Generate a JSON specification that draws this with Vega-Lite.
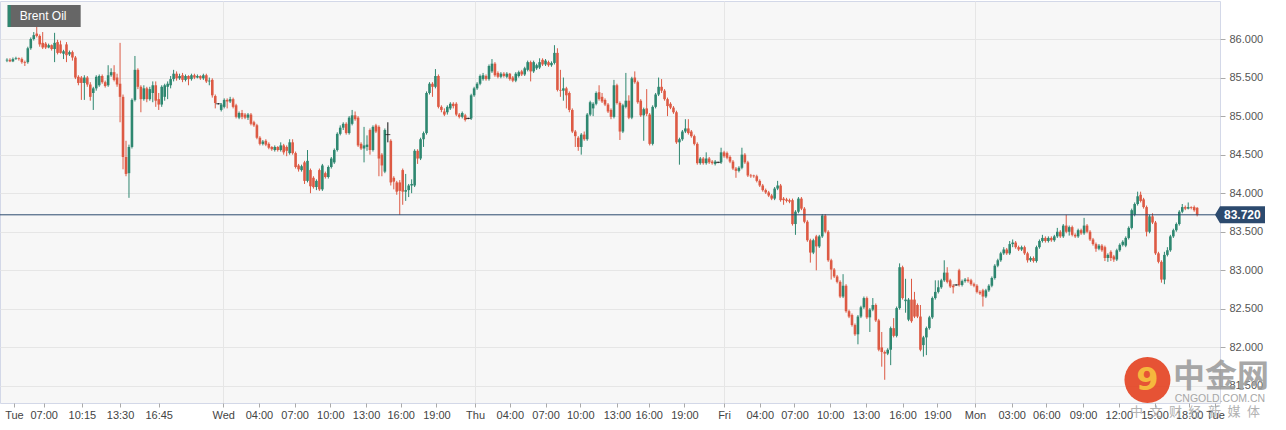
{
"$schema": "https://vega.github.io/schema/vega-lite/v6.json",
"width": 1220, "height": 402,
"autosize": {"type": "none"},
"padding": {"left": 0, "top": 1, "right": 66, "bottom": 27},
"background": "#ffffff",
"config": {"view": {"fill": "#f7f7f7", "stroke": "#d3d8e8", "strokeWidth": 1}, "font": "Liberation Sans", "axis": {"labelOverlap": false, "title": null}},
"data": {"values": [
{"i":0,"o":85.72,"h":85.75,"l":85.70,"c":85.73},{"i":1,"o":85.73,"h":85.75,"l":85.70,"c":85.71},{"i":2,"o":85.71,"h":85.76,"l":85.70,"c":85.74},{"i":3,"o":85.74,"h":85.77,"l":85.73,"c":85.75},{"i":4,"o":85.75,"h":85.76,"l":85.72,"c":85.74},
{"i":5,"o":85.74,"h":85.76,"l":85.68,"c":85.70},{"i":6,"o":85.70,"h":85.72,"l":85.65,"c":85.69},{"i":7,"o":85.70,"h":85.90,"l":85.68,"c":85.88},{"i":8,"o":85.88,"h":86.02,"l":85.86,"c":86.00},{"i":9,"o":86.00,"h":86.09,"l":85.98,"c":86.05},
{"i":10,"o":86.07,"h":86.16,"l":86.02,"c":86.04},{"i":11,"o":86.04,"h":86.06,"l":85.90,"c":85.93},{"i":12,"o":85.95,"h":86.09,"l":85.87,"c":85.89},{"i":13,"o":85.94,"h":85.96,"l":85.87,"c":85.89},{"i":14,"o":85.89,"h":85.94,"l":85.88,"c":85.92},
{"i":15,"o":85.92,"h":85.93,"l":85.85,"c":85.87},{"i":16,"o":85.87,"h":86.08,"l":85.70,"c":85.95},{"i":17,"o":85.96,"h":85.99,"l":85.80,"c":85.82},{"i":18,"o":85.93,"h":85.98,"l":85.81,"c":85.82},{"i":19,"o":85.81,"h":85.86,"l":85.74,"c":85.84},
{"i":20,"o":85.93,"h":85.96,"l":85.70,"c":85.79},{"i":21,"o":85.80,"h":85.85,"l":85.78,"c":85.83},{"i":22,"o":85.83,"h":85.85,"l":85.72,"c":85.76},{"i":23,"o":85.76,"h":85.78,"l":85.48,"c":85.50},{"i":24,"o":85.51,"h":85.53,"l":85.40,"c":85.43},
{"i":25,"o":85.50,"h":85.52,"l":85.21,"c":85.43},{"i":26,"o":85.43,"h":85.53,"l":85.21,"c":85.50},{"i":27,"o":85.50,"h":85.52,"l":85.38,"c":85.41},{"i":28,"o":85.41,"h":85.44,"l":85.20,"c":85.25},{"i":29,"o":85.30,"h":85.38,"l":85.08,"c":85.36},
{"i":30,"o":85.36,"h":85.53,"l":85.33,"c":85.51},{"i":31,"o":85.40,"h":85.54,"l":85.38,"c":85.52},{"i":32,"o":85.52,"h":85.54,"l":85.42,"c":85.44},{"i":33,"o":85.44,"h":85.46,"l":85.37,"c":85.39},{"i":34,"o":85.40,"h":85.66,"l":85.38,"c":85.53},
{"i":35,"o":85.53,"h":85.62,"l":85.51,"c":85.57},{"i":36,"o":85.57,"h":85.66,"l":85.45,"c":85.47},{"i":37,"o":85.50,"h":85.55,"l":85.38,"c":85.41},{"i":38,"o":85.42,"h":85.95,"l":84.92,"c":85.25},{"i":39,"o":85.25,"h":85.28,"l":84.31,"c":84.47},
{"i":40,"o":84.47,"h":84.68,"l":84.22,"c":84.25},{"i":41,"o":84.26,"h":84.63,"l":83.94,"c":84.60},{"i":42,"o":84.60,"h":85.23,"l":84.58,"c":85.21},{"i":43,"o":85.21,"h":85.78,"l":85.19,"c":85.60},{"i":44,"o":85.60,"h":85.62,"l":85.35,"c":85.38},
{"i":45,"o":85.38,"h":85.40,"l":85.05,"c":85.22},{"i":46,"o":85.22,"h":85.40,"l":85.20,"c":85.36},{"i":47,"o":85.36,"h":85.38,"l":85.18,"c":85.22},{"i":48,"o":85.22,"h":85.38,"l":85.20,"c":85.35},{"i":49,"o":85.30,"h":85.45,"l":85.18,"c":85.40},
{"i":50,"o":85.40,"h":85.45,"l":85.12,"c":85.20},{"i":51,"o":85.22,"h":85.30,"l":85.08,"c":85.15},{"i":52,"o":85.15,"h":85.40,"l":85.12,"c":85.38},{"i":53,"o":85.25,"h":85.42,"l":85.20,"c":85.40},{"i":54,"o":85.38,"h":85.45,"l":85.22,"c":85.42},
{"i":55,"o":85.40,"h":85.52,"l":85.36,"c":85.48},{"i":56,"o":85.48,"h":85.60,"l":85.45,"c":85.55},{"i":57,"o":85.55,"h":85.58,"l":85.46,"c":85.49},{"i":58,"o":85.49,"h":85.55,"l":85.47,"c":85.52},{"i":59,"o":85.53,"h":85.56,"l":85.44,"c":85.47},
{"i":60,"o":85.47,"h":85.54,"l":85.45,"c":85.52},{"i":61,"o":85.52,"h":85.53,"l":85.40,"c":85.48},{"i":62,"o":85.48,"h":85.55,"l":85.46,"c":85.53},{"i":63,"o":85.53,"h":85.55,"l":85.48,"c":85.50},{"i":64,"o":85.50,"h":85.54,"l":85.49,"c":85.52},
{"i":65,"o":85.52,"h":85.53,"l":85.47,"c":85.49},{"i":66,"o":85.49,"h":85.55,"l":85.47,"c":85.53},{"i":67,"o":85.53,"h":85.55,"l":85.43,"c":85.45},{"i":68,"o":85.45,"h":85.50,"l":85.40,"c":85.46},{"i":69,"o":85.47,"h":85.49,"l":85.24,"c":85.27},
{"i":70,"o":85.26,"h":85.28,"l":85.10,"c":85.17},{"i":71,"o":85.16,"h":85.17,"l":85.15,"c":85.16},{"i":72,"o":85.08,"h":85.17,"l":85.06,"c":85.15},{"i":73,"o":85.12,"h":85.23,"l":85.10,"c":85.21},{"i":74,"o":85.21,"h":85.23,"l":85.10,"c":85.19},
{"i":75,"o":85.19,"h":85.25,"l":85.17,"c":85.22},{"i":76,"o":85.22,"h":85.24,"l":85.10,"c":85.12},{"i":77,"o":85.14,"h":85.16,"l":84.97,"c":84.99},{"i":78,"o":84.98,"h":85.06,"l":84.96,"c":85.04},{"i":79,"o":85.04,"h":85.08,"l":84.96,"c":84.99},
{"i":80,"o":85.02,"h":85.04,"l":84.96,"c":84.98},{"i":81,"o":84.98,"h":85.04,"l":84.95,"c":85.02},{"i":82,"o":85.02,"h":85.04,"l":84.88,"c":84.90},{"i":83,"o":84.92,"h":84.94,"l":84.86,"c":84.88},{"i":84,"o":84.88,"h":84.90,"l":84.70,"c":84.72},
{"i":85,"o":84.72,"h":84.74,"l":84.62,"c":84.64},{"i":86,"o":84.64,"h":84.69,"l":84.62,"c":84.67},{"i":87,"o":84.68,"h":84.70,"l":84.61,"c":84.63},{"i":88,"o":84.64,"h":84.66,"l":84.57,"c":84.59},{"i":89,"o":84.60,"h":84.61,"l":84.55,"c":84.57},
{"i":90,"o":84.56,"h":84.62,"l":84.54,"c":84.60},{"i":91,"o":84.60,"h":84.61,"l":84.54,"c":84.56},{"i":92,"o":84.56,"h":84.66,"l":84.54,"c":84.62},{"i":93,"o":84.62,"h":84.64,"l":84.50,"c":84.53},{"i":94,"o":84.60,"h":84.62,"l":84.48,"c":84.55},
{"i":95,"o":84.52,"h":84.70,"l":84.50,"c":84.66},{"i":96,"o":84.66,"h":84.70,"l":84.50,"c":84.52},{"i":97,"o":84.52,"h":84.54,"l":84.32,"c":84.34},{"i":98,"o":84.36,"h":84.38,"l":84.28,"c":84.31},{"i":99,"o":84.30,"h":84.37,"l":84.28,"c":84.35},
{"i":100,"o":84.40,"h":84.42,"l":84.12,"c":84.16},{"i":101,"o":84.16,"h":84.56,"l":84.14,"c":84.42},{"i":102,"o":84.30,"h":84.32,"l":84.00,"c":84.09},{"i":103,"o":84.20,"h":84.22,"l":84.06,"c":84.08},{"i":104,"o":84.08,"h":84.18,"l":84.04,"c":84.16},
{"i":105,"o":84.30,"h":84.32,"l":84.03,"c":84.05},{"i":106,"o":84.05,"h":84.38,"l":84.03,"c":84.36},{"i":107,"o":84.26,"h":84.28,"l":84.19,"c":84.21},{"i":108,"o":84.21,"h":84.36,"l":84.19,"c":84.34},{"i":109,"o":84.34,"h":84.47,"l":84.32,"c":84.45},
{"i":110,"o":84.40,"h":84.58,"l":84.38,"c":84.56},{"i":111,"o":84.56,"h":84.79,"l":84.54,"c":84.77},{"i":112,"o":84.77,"h":84.88,"l":84.75,"c":84.85},{"i":113,"o":84.85,"h":84.92,"l":84.82,"c":84.90},{"i":114,"o":84.90,"h":84.92,"l":84.76,"c":84.78},
{"i":115,"o":84.78,"h":85.00,"l":84.76,"c":84.98},{"i":116,"o":84.90,"h":85.08,"l":84.88,"c":85.01},{"i":117,"o":85.01,"h":85.06,"l":84.94,"c":84.96},{"i":118,"o":84.98,"h":85.00,"l":84.60,"c":84.62},{"i":119,"o":84.64,"h":84.66,"l":84.56,"c":84.58},
{"i":120,"o":84.58,"h":84.86,"l":84.40,"c":84.62},{"i":121,"o":84.60,"h":84.75,"l":84.55,"c":84.63},{"i":122,"o":84.82,"h":84.84,"l":84.50,"c":84.56},{"i":123,"o":84.56,"h":84.88,"l":84.54,"c":84.86},{"i":124,"o":84.88,"h":84.90,"l":84.78,"c":84.80},
{"i":125,"o":84.86,"h":84.88,"l":84.22,"c":84.45},{"i":126,"o":84.50,"h":84.52,"l":84.22,"c":84.36},{"i":127,"o":84.28,"h":84.84,"l":84.26,"c":84.82},{"i":128,"o":84.76,"h":84.92,"l":84.66,"c":84.76},{"i":129,"o":84.68,"h":84.70,"l":84.10,"c":84.14},
{"i":130,"o":84.20,"h":84.22,"l":84.05,"c":84.15},{"i":131,"o":84.14,"h":84.16,"l":83.98,"c":84.02},{"i":132,"o":84.14,"h":84.17,"l":83.72,"c":84.03},{"i":133,"o":84.30,"h":84.32,"l":83.85,"c":84.02},{"i":134,"o":84.02,"h":84.25,"l":83.90,"c":84.04},
{"i":135,"o":84.04,"h":84.12,"l":83.95,"c":84.10},{"i":136,"o":84.10,"h":84.18,"l":84.00,"c":84.12},{"i":137,"o":84.10,"h":84.57,"l":84.08,"c":84.55},{"i":138,"o":84.55,"h":84.57,"l":84.38,"c":84.45},{"i":139,"o":84.45,"h":84.72,"l":84.43,"c":84.70},
{"i":140,"o":84.70,"h":84.80,"l":84.60,"c":84.78},{"i":141,"o":84.78,"h":85.32,"l":84.76,"c":85.30},{"i":142,"o":85.30,"h":85.44,"l":85.28,"c":85.42},{"i":143,"o":85.42,"h":85.44,"l":85.25,"c":85.38},{"i":144,"o":85.38,"h":85.61,"l":85.36,"c":85.52},
{"i":145,"o":85.52,"h":85.54,"l":85.10,"c":85.12},{"i":146,"o":85.12,"h":85.14,"l":85.05,"c":85.08},{"i":147,"o":85.06,"h":85.10,"l":85.00,"c":85.02},{"i":148,"o":85.05,"h":85.14,"l":85.02,"c":85.12},{"i":149,"o":85.10,"h":85.18,"l":85.08,"c":85.16},
{"i":150,"o":85.16,"h":85.18,"l":85.10,"c":85.13},{"i":151,"o":85.16,"h":85.18,"l":85.00,"c":85.02},{"i":152,"o":85.02,"h":85.04,"l":84.97,"c":84.99},{"i":153,"o":84.99,"h":85.06,"l":84.97,"c":85.04},{"i":154,"o":85.01,"h":85.03,"l":84.93,"c":84.95},
{"i":155,"o":84.97,"h":84.98,"l":84.96,"c":84.97},{"i":156,"o":84.97,"h":85.29,"l":84.95,"c":85.27},{"i":157,"o":85.27,"h":85.38,"l":85.25,"c":85.36},{"i":158,"o":85.36,"h":85.44,"l":85.34,"c":85.42},{"i":159,"o":85.42,"h":85.54,"l":85.40,"c":85.52},
{"i":160,"o":85.48,"h":85.56,"l":85.46,"c":85.53},{"i":161,"o":85.52,"h":85.54,"l":85.46,"c":85.48},{"i":162,"o":85.48,"h":85.67,"l":85.46,"c":85.65},{"i":163,"o":85.58,"h":85.74,"l":85.56,"c":85.68},{"i":164,"o":85.68,"h":85.70,"l":85.51,"c":85.53},
{"i":165,"o":85.56,"h":85.58,"l":85.49,"c":85.51},{"i":166,"o":85.51,"h":85.57,"l":85.49,"c":85.55},{"i":167,"o":85.55,"h":85.57,"l":85.50,"c":85.52},{"i":168,"o":85.51,"h":85.57,"l":85.49,"c":85.55},{"i":169,"o":85.55,"h":85.56,"l":85.46,"c":85.48},
{"i":170,"o":85.50,"h":85.52,"l":85.44,"c":85.46},{"i":171,"o":85.46,"h":85.57,"l":85.44,"c":85.55},{"i":172,"o":85.52,"h":85.59,"l":85.50,"c":85.57},{"i":173,"o":85.58,"h":85.60,"l":85.52,"c":85.54},{"i":174,"o":85.54,"h":85.64,"l":85.52,"c":85.62},
{"i":175,"o":85.60,"h":85.72,"l":85.58,"c":85.70},{"i":176,"o":85.70,"h":85.72,"l":85.45,"c":85.58},{"i":177,"o":85.58,"h":85.72,"l":85.56,"c":85.70},{"i":178,"o":85.62,"h":85.68,"l":85.60,"c":85.66},{"i":179,"o":85.63,"h":85.75,"l":85.61,"c":85.70},
{"i":180,"o":85.73,"h":85.75,"l":85.65,"c":85.67},{"i":181,"o":85.67,"h":85.74,"l":85.65,"c":85.72},{"i":182,"o":85.70,"h":85.72,"l":85.64,"c":85.66},{"i":183,"o":85.66,"h":85.71,"l":85.64,"c":85.69},{"i":184,"o":85.69,"h":85.92,"l":85.67,"c":85.82},
{"i":185,"o":85.82,"h":85.88,"l":85.32,"c":85.34},{"i":186,"o":85.34,"h":85.60,"l":85.25,"c":85.33},{"i":187,"o":85.33,"h":85.50,"l":85.20,"c":85.36},{"i":188,"o":85.36,"h":85.38,"l":85.10,"c":85.27},{"i":189,"o":85.30,"h":85.32,"l":85.05,"c":85.08},
{"i":190,"o":85.08,"h":85.10,"l":84.78,"c":84.80},{"i":191,"o":84.80,"h":84.82,"l":84.60,"c":84.74},{"i":192,"o":84.72,"h":84.74,"l":84.55,"c":84.60},{"i":193,"o":84.60,"h":84.78,"l":84.50,"c":84.76},{"i":194,"o":84.76,"h":84.80,"l":84.68,"c":84.70},
{"i":195,"o":84.70,"h":85.04,"l":84.68,"c":85.02},{"i":196,"o":85.02,"h":85.20,"l":85.00,"c":85.18},{"i":197,"o":85.10,"h":85.18,"l":85.00,"c":85.16},{"i":198,"o":85.16,"h":85.32,"l":85.14,"c":85.30},{"i":199,"o":85.31,"h":85.40,"l":85.20,"c":85.22},
{"i":200,"o":85.25,"h":85.30,"l":85.17,"c":85.19},{"i":201,"o":85.21,"h":85.23,"l":85.13,"c":85.15},{"i":202,"o":85.15,"h":85.17,"l":85.04,"c":85.06},{"i":203,"o":85.08,"h":85.10,"l":84.96,"c":84.99},{"i":204,"o":84.99,"h":85.47,"l":84.97,"c":85.40},
{"i":205,"o":85.40,"h":85.42,"l":85.15,"c":85.17},{"i":206,"o":85.17,"h":85.19,"l":84.69,"c":84.80},{"i":207,"o":84.80,"h":85.16,"l":84.78,"c":85.14},{"i":208,"o":85.12,"h":85.56,"l":85.10,"c":85.20},{"i":209,"o":85.20,"h":85.27,"l":84.96,"c":84.98},
{"i":210,"o":84.98,"h":85.51,"l":84.96,"c":85.49},{"i":211,"o":85.50,"h":85.58,"l":85.42,"c":85.44},{"i":212,"o":85.44,"h":85.46,"l":85.16,"c":85.18},{"i":213,"o":85.20,"h":85.22,"l":84.99,"c":85.01},{"i":214,"o":85.01,"h":85.11,"l":84.68,"c":85.09},
{"i":215,"o":85.10,"h":85.35,"l":85.00,"c":85.03},{"i":216,"o":85.02,"h":85.04,"l":84.62,"c":84.64},{"i":217,"o":84.64,"h":85.14,"l":84.62,"c":85.12},{"i":218,"o":85.12,"h":85.30,"l":85.10,"c":85.28},{"i":219,"o":85.28,"h":85.50,"l":85.26,"c":85.38},
{"i":220,"o":85.38,"h":85.48,"l":85.30,"c":85.33},{"i":221,"o":85.33,"h":85.35,"l":85.20,"c":85.22},{"i":222,"o":85.22,"h":85.24,"l":85.00,"c":85.13},{"i":223,"o":85.16,"h":85.18,"l":85.09,"c":85.11},{"i":224,"o":85.11,"h":85.13,"l":85.03,"c":85.05},
{"i":225,"o":85.05,"h":85.07,"l":84.64,"c":84.66},{"i":226,"o":84.66,"h":84.72,"l":84.37,"c":84.70},{"i":227,"o":84.70,"h":84.82,"l":84.68,"c":84.80},{"i":228,"o":84.80,"h":84.96,"l":84.78,"c":84.84},{"i":229,"o":84.84,"h":84.96,"l":84.76,"c":84.78},
{"i":230,"o":84.80,"h":84.82,"l":84.72,"c":84.74},{"i":231,"o":84.74,"h":84.76,"l":84.62,"c":84.64},{"i":232,"o":84.64,"h":84.66,"l":84.37,"c":84.39},{"i":233,"o":84.39,"h":84.47,"l":84.37,"c":84.45},{"i":234,"o":84.45,"h":84.47,"l":84.37,"c":84.39},
{"i":235,"o":84.39,"h":84.53,"l":84.37,"c":84.45},{"i":236,"o":84.45,"h":84.47,"l":84.38,"c":84.40},{"i":237,"o":84.41,"h":84.43,"l":84.37,"c":84.39},{"i":238,"o":84.38,"h":84.43,"l":84.36,"c":84.41},{"i":239,"o":84.40,"h":84.41,"l":84.39,"c":84.40},
{"i":240,"o":84.40,"h":84.59,"l":84.38,"c":84.53},{"i":241,"o":84.53,"h":84.55,"l":84.46,"c":84.48},{"i":242,"o":84.52,"h":84.54,"l":84.44,"c":84.46},{"i":243,"o":84.47,"h":84.49,"l":84.39,"c":84.41},{"i":244,"o":84.41,"h":84.43,"l":84.30,"c":84.32},
{"i":245,"o":84.32,"h":84.34,"l":84.20,"c":84.29},{"i":246,"o":84.29,"h":84.35,"l":84.27,"c":84.33},{"i":247,"o":84.33,"h":84.59,"l":84.31,"c":84.50},{"i":248,"o":84.50,"h":84.52,"l":84.38,"c":84.40},{"i":249,"o":84.40,"h":84.42,"l":84.21,"c":84.23},
{"i":250,"o":84.23,"h":84.25,"l":84.20,"c":84.22},{"i":251,"o":84.23,"h":84.24,"l":84.20,"c":84.22},{"i":252,"o":84.22,"h":84.24,"l":84.14,"c":84.16},{"i":253,"o":84.16,"h":84.18,"l":84.08,"c":84.10},{"i":254,"o":84.10,"h":84.12,"l":84.02,"c":84.04},
{"i":255,"o":84.04,"h":84.06,"l":83.99,"c":84.01},{"i":256,"o":84.01,"h":84.03,"l":83.95,"c":83.97},{"i":257,"o":83.97,"h":83.99,"l":83.91,"c":83.93},{"i":258,"o":83.93,"h":84.08,"l":83.91,"c":84.06},{"i":259,"o":84.06,"h":84.16,"l":84.04,"c":84.10},
{"i":260,"o":84.10,"h":84.12,"l":83.89,"c":83.91},{"i":261,"o":83.93,"h":83.95,"l":83.85,"c":83.91},{"i":262,"o":83.92,"h":83.94,"l":83.88,"c":83.90},{"i":263,"o":83.91,"h":83.93,"l":83.87,"c":83.89},{"i":264,"o":83.91,"h":83.93,"l":83.58,"c":83.60},
{"i":265,"o":83.60,"h":83.78,"l":83.46,"c":83.76},{"i":266,"o":83.76,"h":83.95,"l":83.74,"c":83.93},{"i":267,"o":83.93,"h":83.95,"l":83.78,"c":83.80},{"i":268,"o":83.80,"h":83.82,"l":83.61,"c":83.63},{"i":269,"o":83.63,"h":83.65,"l":83.37,"c":83.39},
{"i":270,"o":83.39,"h":83.41,"l":83.10,"c":83.23},{"i":271,"o":83.23,"h":83.41,"l":83.21,"c":83.39},{"i":272,"o":83.44,"h":83.46,"l":83.00,"c":83.31},{"i":273,"o":83.31,"h":83.46,"l":83.29,"c":83.44},{"i":274,"o":83.44,"h":83.73,"l":83.42,"c":83.71},
{"i":275,"o":83.71,"h":83.73,"l":83.48,"c":83.50},{"i":276,"o":83.50,"h":83.52,"l":83.11,"c":83.13},{"i":277,"o":83.13,"h":83.15,"l":82.88,"c":83.01},{"i":278,"o":83.01,"h":83.03,"l":82.90,"c":82.92},{"i":279,"o":82.92,"h":82.94,"l":82.83,"c":82.85},
{"i":280,"o":82.85,"h":82.87,"l":82.64,"c":82.66},{"i":281,"o":82.66,"h":82.95,"l":82.64,"c":82.80},{"i":282,"o":82.80,"h":82.82,"l":82.45,"c":82.47},{"i":283,"o":82.47,"h":82.49,"l":82.38,"c":82.40},{"i":284,"o":82.42,"h":82.44,"l":82.27,"c":82.29},
{"i":285,"o":82.29,"h":82.31,"l":82.15,"c":82.17},{"i":286,"o":82.17,"h":82.42,"l":82.04,"c":82.40},{"i":287,"o":82.40,"h":82.54,"l":82.38,"c":82.52},{"i":288,"o":82.52,"h":82.66,"l":82.50,"c":82.64},{"i":289,"o":82.64,"h":82.66,"l":82.37,"c":82.39},
{"i":290,"o":82.39,"h":82.51,"l":82.20,"c":82.49},{"i":291,"o":82.49,"h":82.64,"l":82.47,"c":82.55},{"i":292,"o":82.55,"h":82.57,"l":82.33,"c":82.35},{"i":293,"o":82.35,"h":82.37,"l":81.95,"c":81.97},{"i":294,"o":82.00,"h":82.20,"l":81.75,"c":81.94},
{"i":295,"o":81.94,"h":81.96,"l":81.58,"c":81.92},{"i":296,"o":81.92,"h":81.99,"l":81.90,"c":81.97},{"i":297,"o":81.97,"h":82.27,"l":81.77,"c":82.25},{"i":298,"o":82.25,"h":82.38,"l":82.13,"c":82.15},{"i":299,"o":82.15,"h":82.53,"l":82.13,"c":82.51},
{"i":300,"o":82.51,"h":83.09,"l":82.49,"c":83.04},{"i":301,"o":83.04,"h":83.06,"l":82.62,"c":82.64},{"i":302,"o":82.60,"h":82.89,"l":82.45,"c":82.62},{"i":303,"o":82.36,"h":82.64,"l":82.34,"c":82.62},{"i":304,"o":82.62,"h":82.89,"l":82.32,"c":82.34},
{"i":305,"o":82.62,"h":82.72,"l":82.38,"c":82.40},{"i":306,"o":82.55,"h":82.57,"l":82.38,"c":82.40},{"i":307,"o":82.40,"h":82.55,"l":81.95,"c":81.97},{"i":308,"o":82.03,"h":82.15,"l":81.88,"c":82.13},{"i":309,"o":82.13,"h":82.27,"l":81.90,"c":82.25},
{"i":310,"o":82.25,"h":82.41,"l":82.23,"c":82.39},{"i":311,"o":82.39,"h":82.66,"l":82.37,"c":82.64},{"i":312,"o":82.64,"h":82.87,"l":82.62,"c":82.72},{"i":313,"o":82.72,"h":82.87,"l":82.70,"c":82.78},{"i":314,"o":82.78,"h":82.89,"l":82.76,"c":82.87},
{"i":315,"o":82.87,"h":83.13,"l":82.85,"c":82.97},{"i":316,"o":82.97,"h":83.04,"l":82.83,"c":82.85},{"i":317,"o":82.87,"h":82.89,"l":82.77,"c":82.79},{"i":318,"o":82.80,"h":82.82,"l":82.70,"c":82.78},{"i":319,"o":82.81,"h":82.82,"l":82.80,"c":82.81},
{"i":320,"o":83.00,"h":83.02,"l":82.79,"c":82.81},{"i":321,"o":82.81,"h":82.88,"l":82.79,"c":82.86},{"i":322,"o":82.86,"h":82.90,"l":82.84,"c":82.88},{"i":323,"o":82.88,"h":82.91,"l":82.84,"c":82.86},{"i":324,"o":82.87,"h":82.89,"l":82.80,"c":82.82},
{"i":325,"o":82.82,"h":82.84,"l":82.78,"c":82.80},{"i":326,"o":82.80,"h":82.82,"l":82.70,"c":82.72},{"i":327,"o":82.72,"h":82.74,"l":82.68,"c":82.70},{"i":328,"o":82.74,"h":82.76,"l":82.53,"c":82.66},{"i":329,"o":82.66,"h":82.76,"l":82.64,"c":82.74},
{"i":330,"o":82.74,"h":82.82,"l":82.72,"c":82.80},{"i":331,"o":82.80,"h":82.92,"l":82.78,"c":82.90},{"i":332,"o":82.90,"h":83.08,"l":82.88,"c":83.06},{"i":333,"o":83.06,"h":83.15,"l":83.04,"c":83.13},{"i":334,"o":83.13,"h":83.24,"l":83.11,"c":83.22},
{"i":335,"o":83.22,"h":83.30,"l":83.20,"c":83.27},{"i":336,"o":83.27,"h":83.29,"l":83.20,"c":83.22},{"i":337,"o":83.22,"h":83.38,"l":83.20,"c":83.34},{"i":338,"o":83.34,"h":83.40,"l":83.30,"c":83.36},{"i":339,"o":83.36,"h":83.38,"l":83.28,"c":83.30},
{"i":340,"o":83.30,"h":83.32,"l":83.25,"c":83.27},{"i":341,"o":83.27,"h":83.32,"l":83.25,"c":83.30},{"i":342,"o":83.30,"h":83.32,"l":83.20,"c":83.22},{"i":343,"o":83.22,"h":83.24,"l":83.10,"c":83.13},{"i":344,"o":83.13,"h":83.18,"l":83.11,"c":83.16},
{"i":345,"o":83.16,"h":83.18,"l":83.10,"c":83.12},{"i":346,"o":83.12,"h":83.32,"l":83.10,"c":83.30},{"i":347,"o":83.30,"h":83.40,"l":83.28,"c":83.38},{"i":348,"o":83.38,"h":83.46,"l":83.36,"c":83.42},{"i":349,"o":83.42,"h":83.44,"l":83.36,"c":83.38},
{"i":350,"o":83.38,"h":83.44,"l":83.36,"c":83.42},{"i":351,"o":83.42,"h":83.44,"l":83.37,"c":83.39},{"i":352,"o":83.39,"h":83.46,"l":83.37,"c":83.44},{"i":353,"o":83.44,"h":83.55,"l":83.42,"c":83.50},{"i":354,"o":83.50,"h":83.52,"l":83.42,"c":83.44},
{"i":355,"o":83.44,"h":83.60,"l":83.42,"c":83.58},{"i":356,"o":83.58,"h":83.72,"l":83.48,"c":83.50},{"i":357,"o":83.50,"h":83.58,"l":83.45,"c":83.56},{"i":358,"o":83.56,"h":83.58,"l":83.44,"c":83.46},{"i":359,"o":83.46,"h":83.48,"l":83.42,"c":83.44},
{"i":360,"o":83.44,"h":83.54,"l":83.42,"c":83.52},{"i":361,"o":83.52,"h":83.54,"l":83.46,"c":83.48},{"i":362,"o":83.48,"h":83.68,"l":83.46,"c":83.58},{"i":363,"o":83.58,"h":83.60,"l":83.48,"c":83.50},{"i":364,"o":83.50,"h":83.52,"l":83.38,"c":83.40},
{"i":365,"o":83.40,"h":83.42,"l":83.32,"c":83.34},{"i":366,"o":83.34,"h":83.36,"l":83.24,"c":83.28},{"i":367,"o":83.28,"h":83.34,"l":83.26,"c":83.32},{"i":368,"o":83.32,"h":83.34,"l":83.24,"c":83.26},{"i":369,"o":83.30,"h":83.32,"l":83.12,"c":83.16},
{"i":370,"o":83.16,"h":83.22,"l":83.11,"c":83.20},{"i":371,"o":83.24,"h":83.26,"l":83.12,"c":83.16},{"i":372,"o":83.18,"h":83.20,"l":83.11,"c":83.14},{"i":373,"o":83.14,"h":83.28,"l":83.12,"c":83.26},{"i":374,"o":83.26,"h":83.35,"l":83.24,"c":83.33},
{"i":375,"o":83.33,"h":83.39,"l":83.31,"c":83.37},{"i":376,"o":83.32,"h":83.44,"l":83.30,"c":83.42},{"i":377,"o":83.42,"h":83.57,"l":83.40,"c":83.55},{"i":378,"o":83.55,"h":83.80,"l":83.53,"c":83.78},{"i":379,"o":83.72,"h":83.88,"l":83.70,"c":83.86},
{"i":380,"o":83.86,"h":84.02,"l":83.84,"c":83.96},{"i":381,"o":83.98,"h":84.02,"l":83.88,"c":83.90},{"i":382,"o":83.92,"h":83.94,"l":83.80,"c":83.82},{"i":383,"o":83.82,"h":83.84,"l":83.44,"c":83.50},{"i":384,"o":83.50,"h":83.72,"l":83.48,"c":83.70},
{"i":385,"o":83.70,"h":83.74,"l":83.60,"c":83.62},{"i":386,"o":83.62,"h":83.64,"l":83.20,"c":83.22},{"i":387,"o":83.22,"h":83.24,"l":83.09,"c":83.11},{"i":388,"o":83.11,"h":83.13,"l":82.84,"c":82.88},{"i":389,"o":82.88,"h":83.24,"l":82.82,"c":83.20},
{"i":390,"o":83.20,"h":83.30,"l":83.18,"c":83.26},{"i":391,"o":83.26,"h":83.46,"l":83.24,"c":83.44},{"i":392,"o":83.44,"h":83.54,"l":83.42,"c":83.52},{"i":393,"o":83.52,"h":83.62,"l":83.50,"c":83.60},{"i":394,"o":83.60,"h":83.78,"l":83.58,"c":83.76},
{"i":395,"o":83.76,"h":83.86,"l":83.74,"c":83.82},{"i":396,"o":83.82,"h":83.84,"l":83.78,"c":83.80},{"i":397,"o":83.80,"h":83.88,"l":83.79,"c":83.82},{"i":398,"o":83.82,"h":83.83,"l":83.79,"c":83.81},{"i":399,"o":83.82,"h":83.84,"l":83.76,"c":83.78},
{"i":400,"o":83.81,"h":83.82,"l":83.70,"c":83.72}
]},
"layer": [
{
"mark": {"type": "rule", "strokeWidth": 1},
"encoding": {
"x": {"field": "i", "type": "quantitative", "scale": {"domain": [-0.6667, 406], "nice": false, "zero": false},
 "axis": {"title": null, "domain": false, "grid": true, "gridColor": "#e6e6e6", "gridWidth": 1, "tickCount": 80,
  "gridOpacity": {"condition": {"test": "indexof([72.67,157.33,241,325.33], datum.value) >= 0", "value": 1}, "value": 0},
  "values": [2.33,12.33,25.17,38,51,72.67,84.67,96.67,108.67,120.67,132.33,144.33,157.33,169,181,192.67,205,215.67,227.67,241,253,264.67,276.67,288.67,301,312.67,325.33,337.67,349.33,361.67,373.67,385.67,397.33,406],
  "labelExpr": "['Tue','07:00','10:15','13:30','16:45','Wed','04:00','07:00','10:00','13:00','16:00','19:00','Thu','04:00','07:00','10:00','13:00','16:00','19:00','Fri','04:00','07:00','10:00','13:00','16:00','19:00','Mon','03:00','06:00','09:00','12:00','15:00','18:00','Tue'][indexof([2.33,12.33,25.17,38,51,72.67,84.67,96.67,108.67,120.67,132.33,144.33,157.33,169,181,192.67,205,215.67,227.67,241,253,264.67,276.67,288.67,301,312.67,325.33,337.67,349.33,361.67,373.67,385.67,397.33,406], datum.value)]",
  "labelFlush": false, "labelOverlap": false, "labelFontSize": 11, "labelColor": "#444444", "labelPadding": 2,
  "ticks": true, "tickSize": 4, "tickColor": "#aaaaaa"}},
"y": {"field": "l", "type": "quantitative", "scale": {"domain": [81.279, 86.493], "nice": false, "zero": false},
 "axis": {"title": null, "orient": "right", "domain": false, "grid": true, "gridColor": "#e6e6e6", "gridWidth": 1, "labelOverlap": false, "tickCount": 20,
  "values": [81.5, 82, 82.5, 83, 83.5, 84, 84.5, 85, 85.5, 86], "format": ".3f",
  "labelFontSize": 11, "labelColor": "#555555", "labelPadding": 4, "tickSize": 5, "tickColor": "#aaaaaa"}},
"y2": {"field": "h"},
"color": {"condition": [{"test": "datum.c > datum.o", "value": "#2e8770"}, {"test": "datum.c < datum.o", "value": "#dd5a44"}], "value": "#111111"}
}
},
{
"mark": {"type": "bar", "size": 2.6, "orient": "vertical"},
"encoding": {
"x": {"field": "i", "type": "quantitative", "axis": {"title": null, "labelOverlap": false}},
"y": {"field": "o", "type": "quantitative", "axis": {"title": null, "labelOverlap": false}},
"y2": {"field": "c"},
"color": {"condition": [{"test": "datum.c > datum.o", "value": "#2e8770"}, {"test": "datum.c < datum.o", "value": "#dd5a44"}], "value": "#111111"}
}
},
{
"transform": [{"filter": "datum.o == datum.c"}],
"mark": {"type": "tick", "orient": "horizontal", "size": 5, "thickness": 1, "color": "#111111"},
"encoding": {
"x": {"field": "i", "type": "quantitative", "axis": {"title": null, "labelOverlap": false}},
"y": {"field": "c", "type": "quantitative", "axis": {"title": null, "labelOverlap": false}}
}
},
{
"data": {"values": [{"price": 83.72, "label": "83.720"}]},
"mark": {"type": "rule", "color": "#2c4a6e", "strokeWidth": 1},
"encoding": {"y": {"field": "price", "type": "quantitative", "axis": {"title": null, "labelOverlap": false}}}
},
{
"data": {"values": [{"price": 83.72, "label": "83.720", "edge": 406}]},
"mark": {"type": "point", "filled": true, "opacity": 1, "shape": "M0,0L0.1,-0.17L1,-0.17L1,0.17L0.1,0.17Z", "size": 10000, "color": "#2c4a6e"},
"encoding": {"x": {"field": "edge", "type": "quantitative", "axis": {"title": null, "labelOverlap": false}}, "y": {"field": "price", "type": "quantitative", "axis": {"title": null, "labelOverlap": false}}}
},
{
"data": {"values": [{"price": 83.72, "label": "83.720", "edge": 406}]},
"mark": {"type": "text", "align": "left", "baseline": "middle", "dx": 9, "fontWeight": "bold", "fontSize": 12, "color": "#ffffff"},
"encoding": {"x": {"field": "edge", "type": "quantitative", "axis": {"title": null, "labelOverlap": false}}, "y": {"field": "price", "type": "quantitative", "axis": {"title": null, "labelOverlap": false}}, "text": {"field": "label"}}
},
{
"data": {"values": [{"label": "Brent Oil", "px": 12.5, "py": 86.298}]},
"mark": {"type": "point", "filled": true, "opacity": 1, "shape": "M-0.73,-0.22H0.73V0.22H-0.73Z", "size": 10000, "color": "#666666"},
"encoding": {"x": {"field": "px", "type": "quantitative", "axis": {"title": null, "labelOverlap": false}}, "y": {"field": "py", "type": "quantitative", "axis": {"title": null, "labelOverlap": false}}}
},
{
"data": {"values": [{"label": "Brent Oil", "px": 12.5, "py": 86.298}]},
"mark": {"type": "point", "filled": true, "opacity": 1, "shape": "M-0.73,-0.22H-0.67V0.22H-0.73Z", "size": 10000, "color": "#2e8770"},
"encoding": {"x": {"field": "px", "type": "quantitative", "axis": {"title": null, "labelOverlap": false}}, "y": {"field": "py", "type": "quantitative", "axis": {"title": null, "labelOverlap": false}}}
},
{
"data": {"values": [{"label": "Brent Oil", "px": 12.5, "py": 86.298}]},
"mark": {"type": "text", "align": "center", "baseline": "middle", "dx": -1, "fontSize": 12, "color": "#ffffff"},
"encoding": {"x": {"field": "px", "type": "quantitative", "axis": {"title": null, "labelOverlap": false}}, "y": {"field": "py", "type": "quantitative", "axis": {"title": null, "labelOverlap": false}}, "text": {"field": "label"}}
},
{
"data": {"values": [{"px": 383.3, "py": 81.577}]},
"mark": {"type": "point", "filled": true, "opacity": 0.9, "shape": "circle", "size": 2116, "color": "#e3401f"},
"encoding": {"x": {"field": "px", "type": "quantitative", "axis": {"title": null, "labelOverlap": false}}, "y": {"field": "py", "type": "quantitative", "axis": {"title": null, "labelOverlap": false}}}
},
{
"data": {"values": [{"t": "9", "px": 383.3, "py": 81.577}]},
"mark": {"type": "text", "align": "center", "baseline": "middle", "fontSize": 32, "fontWeight": "bold", "color": "#f5b83d", "font": "DejaVu Sans"},
"encoding": {"x": {"field": "px", "type": "quantitative", "axis": {"title": null, "labelOverlap": false}}, "y": {"field": "py", "type": "quantitative", "axis": {"title": null, "labelOverlap": false}}, "text": {"field": "t"}}
},
{
"data": {"values": [{"t": "中金网", "px": 408, "py": 81.616}]},
"mark": {"type": "text", "align": "center", "baseline": "middle", "fontSize": 32, "fontWeight": "bold", "color": "#999999", "opacity": 0.85, "font": "Noto Sans CJK SC"},
"encoding": {"x": {"field": "px", "type": "quantitative", "axis": {"title": null, "labelOverlap": false}}, "y": {"field": "py", "type": "quantitative", "axis": {"title": null, "labelOverlap": false}}, "text": {"field": "t"}}
},
{
"data": {"values": [{"t": "CNGOLD.COM.CN", "px": 407.67, "py": 81.33}]},
"mark": {"type": "text", "align": "center", "baseline": "middle", "fontSize": 10.5, "color": "#999999", "opacity": 0.85},
"encoding": {"x": {"field": "px", "type": "quantitative", "axis": {"title": null, "labelOverlap": false}}, "y": {"field": "py", "type": "quantitative", "axis": {"title": null, "labelOverlap": false}}, "text": {"field": "t"}}
},
{
"data": {"values": [{"t": "中\u2002文\u2002财\u2002经\u2002新\u2002媒\u2002体", "px": 399.3, "py": 81.165}]},
"mark": {"type": "text", "align": "center", "baseline": "middle", "fontSize": 13, "color": "#aaaaaa", "opacity": 0.9, "font": "Noto Sans CJK SC"},
"encoding": {"x": {"field": "px", "type": "quantitative", "axis": {"title": null, "labelOverlap": false}}, "y": {"field": "py", "type": "quantitative", "axis": {"title": null, "labelOverlap": false}}, "text": {"field": "t"}}
}
]
}
